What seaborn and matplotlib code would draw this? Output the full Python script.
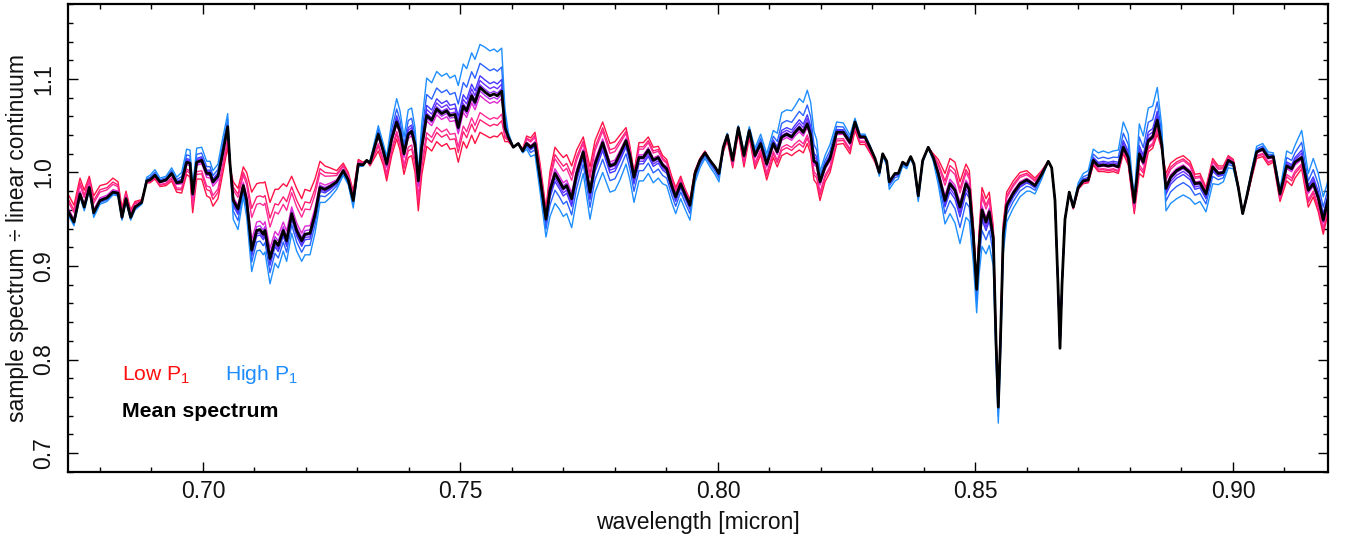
import numpy as np
import pandas as pd
import matplotlib
matplotlib.use("Agg")
import matplotlib.pyplot as plt
from matplotlib.ticker import MultipleLocator, FormatStrFormatter
import seaborn as sns

# ---------------- data ----------------
wavelength = [
    0.67379, 0.67495, 0.67612, 0.67695, 0.67792, 0.67878, 0.68000, 0.68136, 0.68252, 0.68350,
    0.68427, 0.68505, 0.68596, 0.68680, 0.68810, 0.68907, 0.68971, 0.69068, 0.69165, 0.69282,
    0.69392, 0.69489, 0.69586, 0.69683, 0.69748, 0.69800, 0.69878, 0.69975, 0.70072, 0.70136,
    0.70194, 0.70291, 0.70363, 0.70480, 0.70524, 0.70588, 0.70680, 0.70783, 0.70849, 0.70946,
    0.71043, 0.71107, 0.71171, 0.71204, 0.71301, 0.71398, 0.71462, 0.71559, 0.71625, 0.71722,
    0.71819, 0.71917, 0.71981, 0.72078, 0.72175, 0.72272, 0.72369, 0.72466, 0.72596, 0.72724,
    0.72821, 0.72918, 0.73016, 0.73107, 0.73179, 0.73243, 0.73404, 0.73501, 0.73567, 0.73664,
    0.73761, 0.73825, 0.73903, 0.73986, 0.74052, 0.74117, 0.74181, 0.74247, 0.74344, 0.74441,
    0.74538, 0.74635, 0.74732, 0.74796, 0.74893, 0.74957, 0.75054, 0.75120, 0.75217, 0.75282,
    0.75379, 0.75476, 0.75573, 0.75650, 0.75715, 0.75800, 0.75864, 0.75928, 0.76025, 0.76122,
    0.76208, 0.76285, 0.76363, 0.76447, 0.76544, 0.76660, 0.76738, 0.76835, 0.76918, 0.76996,
    0.77062, 0.77159, 0.77256, 0.77384, 0.77515, 0.77612, 0.77761, 0.77903, 0.78000, 0.78097,
    0.78214, 0.78291, 0.78369, 0.78466, 0.78550, 0.78647, 0.78744, 0.78841, 0.78926, 0.79004,
    0.79101, 0.79179, 0.79276, 0.79359, 0.79456, 0.79553, 0.79650, 0.79748, 0.79845, 0.79942,
    0.80019, 0.80103, 0.80181, 0.80285, 0.80394, 0.80505, 0.80608, 0.80718, 0.80829, 0.80946,
    0.81074, 0.81151, 0.81237, 0.81334, 0.81431, 0.81495, 0.81579, 0.81656, 0.81734, 0.81800,
    0.81864, 0.81917, 0.81981, 0.82078, 0.82175, 0.82305, 0.82433, 0.82563, 0.82660, 0.82757,
    0.82854, 0.82951, 0.83049, 0.83132, 0.83198, 0.83276, 0.83326, 0.83437, 0.83501, 0.83586,
    0.83664, 0.83742, 0.83806, 0.83889, 0.83975, 0.84083, 0.84181, 0.84278, 0.84408, 0.84505,
    0.84602, 0.84699, 0.84816, 0.84880, 0.84957, 0.85023, 0.85068, 0.85126, 0.85204, 0.85268,
    0.85346, 0.85398, 0.85443, 0.85485, 0.85540, 0.85606, 0.85734, 0.85864, 0.85994, 0.86058,
    0.86155, 0.86285, 0.86414, 0.86480, 0.86544, 0.86602, 0.86641, 0.86680, 0.86738, 0.86821,
    0.86899, 0.86996, 0.87093, 0.87190, 0.87287, 0.87384, 0.87482, 0.87579, 0.87676, 0.87773,
    0.87870, 0.87967, 0.88029, 0.88083, 0.88136, 0.88181, 0.88258, 0.88355, 0.88441, 0.88530,
    0.88616, 0.88699, 0.88790, 0.88907, 0.89035, 0.89165, 0.89262, 0.89359, 0.89476, 0.89606,
    0.89715, 0.89812, 0.89909, 0.90006, 0.90103, 0.90188, 0.90266, 0.90363, 0.90460, 0.90577,
    0.90685, 0.90783, 0.90913, 0.91043, 0.91140, 0.91204, 0.91334, 0.91462, 0.91559, 0.91656,
    0.91753, 0.91850,
]

mean_spectrum = [
    0.959, 0.947, 0.977, 0.963, 0.984, 0.957, 0.970, 0.973, 0.979, 0.978,
    0.952, 0.972, 0.952, 0.963, 0.968, 0.991, 0.992, 0.997, 0.990, 0.992,
    0.999, 0.989, 0.990, 1.011, 1.010, 0.977, 1.011, 1.013, 0.999, 0.999,
    0.990, 0.996, 1.015, 1.049, 1.010, 0.970, 0.961, 0.986, 0.970, 0.917,
    0.938, 0.939, 0.934, 0.938, 0.908, 0.927, 0.922, 0.938, 0.927, 0.956,
    0.938, 0.927, 0.934, 0.935, 0.955, 0.984, 0.982, 0.985, 0.990, 1.002,
    0.992, 0.970, 1.009, 1.008, 1.013, 1.010, 1.041, 1.023, 1.009, 1.036,
    1.054, 1.044, 1.020, 1.041, 1.044, 1.030, 0.991, 1.027, 1.061, 1.056,
    1.068, 1.063, 1.066, 1.061, 1.062, 1.048, 1.071, 1.066, 1.082, 1.075,
    1.091, 1.086, 1.082, 1.084, 1.082, 1.087, 1.048, 1.038, 1.027, 1.031,
    1.023, 1.031, 1.027, 1.031, 0.995, 0.950, 0.981, 0.999, 0.991, 0.983,
    0.986, 0.972, 0.999, 1.022, 0.979, 1.009, 1.032, 1.007, 1.009, 1.020,
    1.034, 1.018, 0.995, 1.016, 1.016, 1.024, 1.013, 1.016, 1.008, 1.004,
    0.986, 0.974, 0.988, 0.977, 0.965, 0.999, 1.013, 1.021, 1.013, 1.006,
    0.999, 1.027, 1.040, 1.013, 1.048, 1.018, 1.045, 1.018, 1.031, 1.009,
    1.031, 1.022, 1.038, 1.041, 1.038, 1.043, 1.048, 1.043, 1.052, 1.040,
    1.012, 1.010, 0.990, 1.006, 1.015, 1.043, 1.043, 1.032, 1.054, 1.038,
    1.038, 1.027, 1.015, 1.000, 1.020, 1.012, 0.990, 0.999, 0.999, 1.011,
    1.008, 1.017, 1.009, 0.975, 1.013, 1.027, 1.016, 0.999, 0.970, 0.988,
    0.981, 0.963, 0.988, 0.982, 0.934, 0.875, 0.920, 0.960, 0.947, 0.958,
    0.930, 0.820, 0.749, 0.820, 0.934, 0.965, 0.978, 0.988, 0.992, 0.990,
    0.986, 0.998, 1.012, 1.005, 0.970, 0.880, 0.812, 0.880, 0.950, 0.979,
    0.963, 0.984, 0.991, 0.992, 1.013, 1.007, 1.008, 1.007, 1.008, 1.006,
    1.027, 1.016, 0.990, 0.968, 0.995, 1.020, 1.011, 1.034, 1.038, 1.056,
    1.030, 0.983, 0.995, 1.002, 1.006, 1.000, 0.988, 0.989, 0.977, 1.006,
    0.999, 1.000, 1.013, 1.010, 0.984, 0.956, 0.974, 0.999, 1.022, 1.025,
    1.016, 1.017, 0.977, 1.007, 1.004, 1.011, 1.016, 0.981, 0.988, 0.973,
    0.949, 0.972,
]

# deviation of the highest-P1 sample from the mean spectrum
high_p1_offset = [
    -0.004, -0.004, -0.003, -0.004, -0.003, -0.005, -0.004, -0.004, -0.003, -0.003,
    -0.003, -0.003, -0.003, -0.003, -0.002, 0.004, 0.005, 0.006, 0.004, 0.004,
    0.006, 0.006, 0.010, 0.014, 0.014, 0.008, 0.015, 0.014, 0.013, 0.013,
    0.012, 0.013, 0.016, 0.014, 0.000, -0.020, -0.022, -0.012, -0.018, -0.023,
    -0.022, -0.022, -0.022, -0.023, -0.027, -0.024, -0.024, -0.022, -0.022, -0.021,
    -0.022, -0.022, -0.022, -0.023, -0.020, -0.016, -0.014, -0.012, -0.008, -0.005,
    -0.005, -0.008, -0.003, -0.001, 0.000, 0.002, 0.009, 0.008, 0.008, 0.018,
    0.025, 0.022, 0.018, 0.026, 0.025, 0.018, 0.008, 0.025, 0.040, 0.040,
    0.040, 0.040, 0.040, 0.040, 0.042, 0.045, 0.045, 0.045, 0.046, 0.046,
    0.046, 0.048, 0.048, 0.048, 0.047, 0.046, 0.020, 0.005, 0.000, 0.000,
    -0.002, -0.006, -0.010, -0.012, -0.015, -0.019, -0.028, -0.032, -0.030, -0.030,
    -0.030, -0.031, -0.028, -0.023, -0.029, -0.030, -0.032, -0.028, -0.028, -0.028,
    -0.025, -0.026, -0.027, -0.025, -0.025, -0.025, -0.024, -0.022, -0.020, -0.018,
    -0.018, -0.018, -0.016, -0.016, -0.016, -0.010, -0.008, -0.006, -0.007, -0.008,
    -0.009, -0.002, 0.002, 0.002, 0.002, 0.004, 0.004, 0.008, 0.010, 0.011,
    0.014, 0.020, 0.026, 0.026, 0.028, 0.028, 0.031, 0.032, 0.036, 0.035,
    0.032, 0.025, 0.011, 0.012, 0.015, 0.011, 0.010, 0.008, 0.004, 0.003,
    0.003, 0.002, 0.000, -0.004, -0.003, -0.004, -0.008, -0.008, -0.006, -0.004,
    -0.004, -0.002, -0.003, -0.006, -0.003, 0.000, -0.004, -0.012, -0.025, -0.032,
    -0.035, -0.039, -0.036, -0.034, -0.030, -0.025, -0.030, -0.039, -0.034, -0.036,
    -0.030, -0.020, -0.017, -0.018, -0.020, -0.018, -0.016, -0.014, -0.012, -0.010,
    -0.009, -0.005, 0.000, 0.000, 0.000, 0.000, 0.000, 0.000, 0.000, 0.000,
    0.002, 0.005, 0.008, 0.010, 0.012, 0.014, 0.015, 0.014, 0.015, 0.018,
    0.027, 0.025, 0.012, 0.005, 0.020, 0.032, 0.028, 0.035, 0.033, 0.035,
    0.020, -0.024, -0.028, -0.030, -0.030, -0.028, -0.022, -0.020, -0.019, -0.018,
    -0.012, -0.010, -0.008, -0.006, -0.002, 0.000, 0.002, 0.004, 0.006, 0.006,
    0.006, 0.004, 0.005, 0.016, 0.016, 0.018, 0.029, 0.018, 0.027, 0.026,
    0.025, 0.020,
]

# deviation of the lowest-P1 sample from the mean spectrum
low_p1_offset = [
    0.018, 0.018, 0.017, 0.018, 0.012, 0.018, 0.016, 0.015, 0.015, 0.012,
    0.010, 0.008, 0.008, 0.006, 0.003, -0.002, -0.003, -0.004, -0.005, -0.006,
    -0.008, -0.010, -0.012, -0.013, -0.015, -0.020, -0.018, -0.020, -0.024, -0.026,
    -0.026, -0.024, -0.022, -0.022, -0.005, 0.020, 0.022, 0.020, 0.030, 0.062,
    0.050, 0.050, 0.055, 0.052, 0.060, 0.055, 0.060, 0.050, 0.058, 0.040,
    0.045, 0.045, 0.048, 0.045, 0.038, 0.028, 0.025, 0.020, 0.012, 0.008,
    0.008, 0.010, 0.005, 0.003, 0.000, -0.003, -0.018, -0.015, -0.018, -0.018,
    -0.018, -0.020, -0.022, -0.025, -0.026, -0.030, -0.032, -0.030, -0.033, -0.033,
    -0.035, -0.035, -0.035, -0.036, -0.036, -0.037, -0.038, -0.040, -0.042, -0.044,
    -0.048, -0.046, -0.045, -0.045, -0.044, -0.044, -0.015, -0.005, 0.000, 0.000,
    0.002, 0.008, 0.010, 0.012, 0.015, 0.011, 0.020, 0.028, 0.030, 0.033,
    0.033, 0.035, 0.025, 0.016, 0.027, 0.025, 0.022, 0.024, 0.024, 0.020,
    0.014, 0.010, 0.005, 0.016, 0.016, 0.014, 0.014, 0.012, 0.010, 0.010,
    0.010, 0.010, 0.008, 0.006, 0.006, 0.003, 0.002, 0.002, 0.000, 0.000,
    -0.002, -0.005, -0.006, -0.008, -0.006, -0.012, -0.008, -0.014, -0.012, -0.017,
    -0.015, -0.016, -0.020, -0.020, -0.020, -0.022, -0.024, -0.022, -0.021, -0.020,
    -0.020, -0.022, -0.020, -0.016, -0.015, -0.013, -0.012, -0.012, -0.009, -0.008,
    -0.008, -0.006, -0.004, -0.002, -0.002, -0.002, -0.003, -0.002, -0.002, 0.000,
    0.000, 0.000, 0.000, 0.000, 0.000, 0.000, 0.004, 0.015, 0.029, 0.027,
    0.030, 0.027, 0.021, 0.020, 0.012, 0.006, 0.015, 0.024, 0.025, 0.021,
    0.012, 0.006, 0.004, 0.006, 0.012, 0.014, 0.013, 0.012, 0.010, 0.009,
    0.008, 0.004, 0.000, 0.000, 0.000, 0.000, 0.000, 0.000, 0.000, 0.000,
    -0.002, -0.002, -0.003, -0.003, -0.005, -0.006, -0.007, -0.007, -0.007, -0.007,
    -0.007, -0.008, -0.010, -0.012, -0.016, -0.021, -0.016, -0.012, -0.012, -0.015,
    -0.005, 0.016, 0.015, 0.013, 0.012, 0.012, 0.010, 0.010, 0.007, 0.009,
    0.008, 0.007, 0.005, 0.004, 0.002, 0.000, -0.002, -0.005, -0.007, -0.008,
    -0.008, -0.006, -0.008, -0.016, -0.018, -0.017, -0.012, -0.018, -0.014, -0.015,
    -0.015, -0.014,
]

# relative P1 score of each plotted sample (negative = low P1, positive = high P1)
p1_scores = [-1.0, -0.72, -0.56, -0.18, -0.08, 0.06, 0.16, 0.27, 0.56, 1.0]
line_colors = ["#ff1244", "#ff1f72", "#ff2a96", "#e02ad0", "#b030f4",
               "#9030ff", "#6a30ff", "#4438ff", "#2a62ff", "#1e8eff"]

x_label = "wavelength [micron]"
y_label = "sample spectrum \u00f7 linear continuum"

# ---------------- build long table ----------------
wl = np.array(wavelength)
mu = np.array(mean_spectrum)
dh = np.array(high_p1_offset)
dl = np.array(low_p1_offset)

rows = []
for k, s in enumerate(p1_scores):
    spec = mu + (s * dh if s > 0 else (-s) * dl)
    rows.append(pd.DataFrame({"wl": wl, "flux": spec, "sample": k}))
df = pd.concat(rows, ignore_index=True)
df_mean = pd.DataFrame({"wl": wl, "flux": mu})

# ---------------- style ----------------
sns.set_theme(style="ticks")
plt.rcParams["font.family"] = ["Liberation Sans", "DejaVu Sans"]
plt.rcParams["mathtext.fontset"] = "custom"
plt.rcParams["mathtext.rm"] = "Liberation Sans"
plt.rcParams["mathtext.it"] = "Liberation Sans:italic"
plt.rcParams["mathtext.bf"] = "Liberation Sans:bold"
plt.rcParams["lines.solid_joinstyle"] = "round"
plt.rcParams["lines.solid_capstyle"] = "round"

W, H = 1347, 537
fig = plt.figure(figsize=(W / 100, H / 100), dpi=100)
ax = fig.add_axes([68 / W, 1 - 472 / H, (1328 - 68) / W, (472 - 4) / H])

sns.lineplot(data=df, x="wl", y="flux", hue="sample",
             palette=line_colors, estimator=None, sort=False,
             linewidth=1.0, legend=False, ax=ax)
sns.lineplot(data=df_mean, x="wl", y="flux", color="black",
             estimator=None, sort=False, linewidth=2.0, ax=ax)

ax.set_xlim(0.67379, 0.91845)
ax.set_ylim(0.6797, 1.1802)

ax.xaxis.set_major_locator(MultipleLocator(0.05))
ax.xaxis.set_minor_locator(MultipleLocator(0.01))
ax.yaxis.set_major_locator(MultipleLocator(0.1))
ax.yaxis.set_minor_locator(MultipleLocator(0.02))
ax.xaxis.set_major_formatter(FormatStrFormatter("%.2f"))
ax.yaxis.set_major_formatter(FormatStrFormatter("%.1f"))

ax.tick_params(which="both", direction="in", top=True, right=True,
               color="black", width=1.0, labelsize=16.5, labelcolor="#111111")
ax.tick_params(which="major", length=7.5)
ax.tick_params(which="minor", length=3.8)
ax.tick_params(axis="x", which="major", pad=6)
ax.tick_params(axis="y", which="major", pad=9, labelrotation=90)
for lbl in ax.get_yticklabels():
    lbl.set_va("center")

for sp in ax.spines.values():
    sp.set_linewidth(1.6)
    sp.set_color("black")

ax.set_xlabel(x_label, fontsize=16.5, color="#111111")
ax.set_ylabel(y_label, fontsize=16.5, color="#111111")
ax.xaxis.set_label_coords(0.5, -0.083)
ax.yaxis.set_label_coords(-0.031, 0.5)

ax.text(0.0429, 0.196, r"Low P$_\mathregular{1}$", color="#ff1010",
        fontsize=15.2, transform=ax.transAxes, va="baseline", ha="left")
ax.text(0.1246, 0.196, r"High P$_\mathregular{1}$", color="#1e8cff",
        fontsize=15.2, transform=ax.transAxes, va="baseline", ha="left")
ax.text(0.0425, 0.1165, "Mean spectrum", color="black", fontweight="bold",
        fontsize=15.3, transform=ax.transAxes, va="baseline", ha="left")

fig.savefig("out.png", dpi=100)
